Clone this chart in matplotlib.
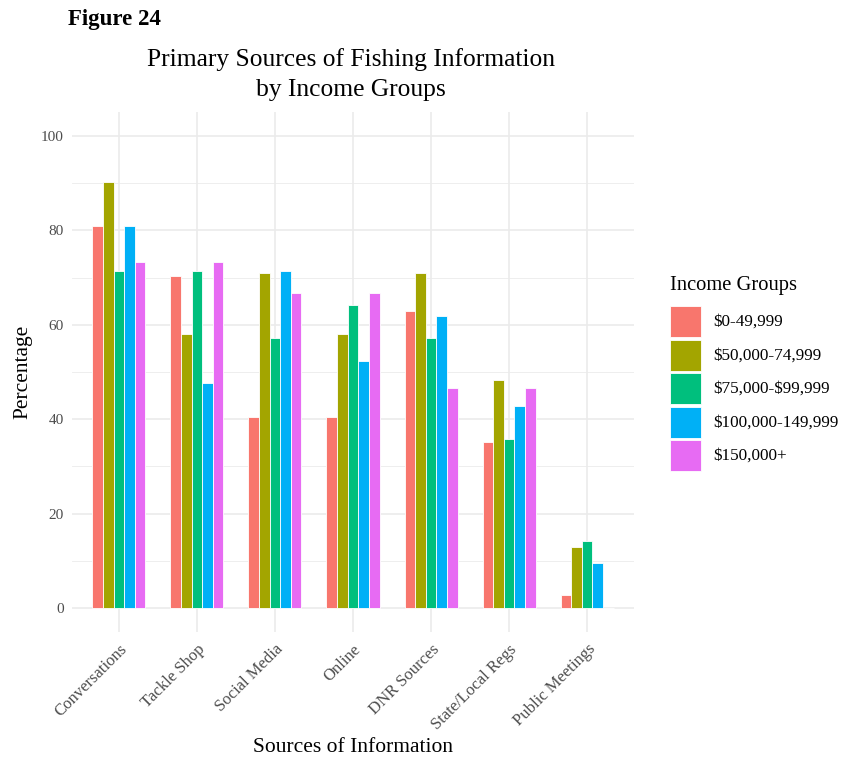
import matplotlib
matplotlib.use("Agg")
import matplotlib.pyplot as plt
from matplotlib.patches import Rectangle
import numpy as np

categories = ["Conversations", "Tackle Shop", "Social Media", "Online",
              "DNR Sources", "State/Local Regs", "Public Meetings"]
groups = ["$0-49,999", "$50,000-74,999", "$75,000-$99,999",
          "$100,000-149,999", "$150,000+"]
colors = ["#F8766D", "#A3A500", "#00BF7D", "#00B0F6", "#E76BF3"]

inc_0_49 = [81.0, 70.3, 40.5, 40.5, 62.9, 35.1, 2.7]
inc_50_74 = [90.3, 58.1, 71.0, 58.1, 71.0, 48.4, 12.9]
inc_75_99 = [71.4, 71.4, 57.1, 64.3, 57.1, 35.7, 14.3]
inc_100_149 = [81.0, 47.6, 71.4, 52.4, 61.9, 42.9, 9.5]
inc_150p = [73.3, 73.3, 66.7, 66.7, 46.7, 46.7, 0.0]
series = [inc_0_49, inc_50_74, inc_75_99, inc_100_149, inc_150p]

W, H = 843, 759
plt.rcParams["text.parse_math"] = False
fig = plt.figure(figsize=(W / 100, H / 100), dpi=100)
serif = ["Liberation Serif", "DejaVu Serif"]
plt.rcParams["font.family"] = serif

L, R, T, B = 72, 634, 112.4, 631.6
ax = fig.add_axes([L / W, 1 - B / H, (R - L) / W, (B - T) / H])

n = len(groups)
total_w = 0.68
bw = total_w / n
x = np.arange(len(categories))
for i, (vals, c) in enumerate(zip(series, colors)):
    offs = -total_w / 2 + bw * (i + 0.5)
    ax.bar(x + offs, vals, width=bw, color=c, edgecolor="white",
           linewidth=0.6, zorder=3)

ax.set_xlim(-0.6, len(categories) - 1 + 0.6)
ax.set_ylim(-5, 105)
ax.set_yticks([0, 20, 40, 60, 80, 100])
ax.set_yticks([10, 30, 50, 70, 90], minor=True)
ax.set_xticks(x)
ax.grid(True, which="major", color="#EBEBEB", linewidth=1.2, zorder=0)
ax.grid(True, which="minor", axis="y", color="#EBEBEB", linewidth=0.6, zorder=0)
ax.set_axisbelow(True)
for s in ax.spines.values():
    s.set_visible(False)
ax.tick_params(axis="both", which="both", length=0)
ax.tick_params(axis="y", labelsize=11, labelcolor="#4D4D4D", pad=6)
ax.set_xticklabels(categories, rotation=45, ha="right", va="top",
                   rotation_mode="anchor", fontsize=12, color="#4D4D4D")
ax.tick_params(axis="x", pad=7)

ax.set_ylabel("Percentage", fontsize=15.5, labelpad=6)
fig.text(353 / W, 1 - 748 / H, "Sources of Information", ha="center",
         va="center", fontsize=15.5)

fig.text(351 / W, 1 - 74.5 / H, "Primary Sources of Fishing Information\nby Income Groups",
         ha="center", va="center", fontsize=18.4, linespacing=1.42)
fig.text(68 / W, 1 - 19 / H, "Figure 24", ha="left", va="center",
         fontsize=16.5, fontweight="bold")

# legend
fig.text(670 / W, 1 - 285 / H, "Income Groups", ha="left", va="center", fontsize=14.8)
y0 = 306
for i, (g, c) in enumerate(zip(groups, colors)):
    top = y0 + i * 33.5
    fig.add_artist(Rectangle((670 / W, 1 - (top + 31) / H), 31 / W, 31 / H,
                             transform=fig.transFigure, facecolor=c,
                             edgecolor="white", linewidth=0.6))
    fig.text(713 / W, 1 - (top + 16) / H, g, ha="left", va="center", fontsize=12.3)

fig.savefig("out.png", dpi=100)
